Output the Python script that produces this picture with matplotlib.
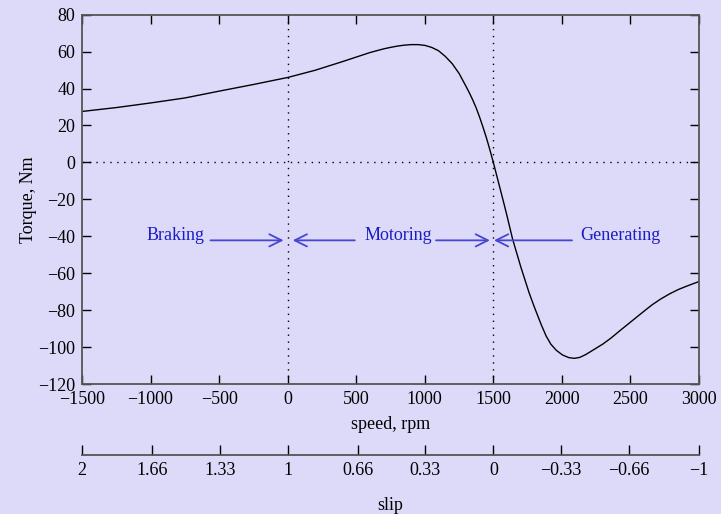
import numpy as np
import matplotlib
matplotlib.use("Agg")
import matplotlib.pyplot as plt

# torque-speed curve, values
speed = [-1500, -1250, -1000, -750, -500, -250, 0, 200, 400, 600, 700, 750,
         800, 850, 900, 950, 1000, 1050, 1100, 1150, 1200, 1250, 1300, 1325,
         1350, 1375, 1400, 1425, 1450, 1475, 1500, 1525, 1550, 1575, 1600,
         1640, 1700, 1760, 1800, 1850, 1885, 1920, 1960, 2005, 2050, 2090,
         2130, 2175, 2230, 2300, 2360, 2420, 2480, 2540, 2600, 2660, 2720,
         2785, 2850, 2910, 3000]
torque = [27.6, 29.7, 32.2, 34.9, 38.6, 42.2, 46.0, 49.9, 54.6, 59.5, 61.5, 62.3,
          63.0, 63.5, 63.8, 63.8, 63.4, 62.3, 60.5, 57.4, 53.5, 48.2, 41.3, 37.7,
          33.8, 29.5, 24.5, 19.0, 13.2, 6.8, 0.0, -7.2, -14.4, -21.6, -29.0,
          -41.4, -56.5, -70.4, -78.5, -88.0, -94.0, -98.5, -101.8, -104.3, -105.7, -106.1,
          -105.6, -104.0, -101.5, -98.3, -95.0, -91.3, -87.7, -84.1, -80.5, -77.0, -74.0,
          -71.2, -68.8, -67.0, -64.5]

speed_ticks = [-1500, -1000, -500, 0, 500, 1000, 1500, 2000, 2500, 3000]
torque_ticks = [-120, -100, -80, -60, -40, -20, 0, 20, 40, 60, 80]
slip_ticks = [2, 1.66, 1.33, 1, 0.66, 0.33, 0, -0.33, -0.66, -1]
slip_labels = ["2", "1.66", "1.33", "1", "0.66", "0.33", "0", "\u22120.33", "\u22120.66", "\u22121"]

# region labels: (text, x), arrows: (tail, head) at torque level arrow_y
region_text = [("Braking", -815), ("Motoring", 808), ("Generating", 2428)]
arrows = [(-563, -30), (490, 37), (1082, 1475), (2074, 1505)]
arrow_y = -42.2

bg = "#dddaf9"
blue_txt = "#1c1cc4"
blue_arrow = "#4646d2"

plt.rcParams["font.family"] = ["Liberation Serif", "DejaVu Serif"]
plt.rcParams["font.size"] = 13

fig = plt.figure(figsize=(7.21, 5.14), dpi=100, facecolor=bg)
ax = fig.add_axes([0.1137, 0.2529, 0.8558, 0.7185], facecolor=bg)

ax.plot(speed, torque, color="black", lw=1.0)

ax.axhline(0, color="black", lw=1.0, ls=(0, (1, 4)))
ax.axvline(0, color="black", lw=1.0, ls=(0, (1, 4)))
ax.axvline(1500, color="black", lw=1.0, ls=(0, (1, 4)))

for txt, x in region_text:
    ax.text(x, arrow_y, txt, color=blue_txt, ha="center", va="baseline", fontsize=13)
for tail, head in arrows:
    ax.annotate("", xy=(head, arrow_y), xytext=(tail, arrow_y),
                arrowprops=dict(arrowstyle="->", color=blue_arrow, lw=1.3,
                                mutation_scale=22, shrinkA=0, shrinkB=0))

ax.set_xlim(-1500, 3000)
ax.set_ylim(-120, 80)
ax.set_xticks(speed_ticks)
ax.set_yticks(torque_ticks)
ax.tick_params(direction="in", length=6.5, width=1.0, top=True, right=True,
               colors="black", labelcolor="black", pad=5)
for s in ax.spines.values():
    s.set_color("#555555")
    s.set_linewidth(1.3)
ax.set_xlabel("speed, rpm", labelpad=6)
ax.set_ylabel("Torque, Nm", labelpad=1)

# slip axis below
sax = fig.add_axes([0.1137, 0.1148, 0.8558, 0.001], facecolor="none")
sax.set_xlim(2, -1)
sax.set_ylim(0, 1)
for k in ["top", "left", "right"]:
    sax.spines[k].set_visible(False)
sax.spines["bottom"].set_color("#555555")
sax.spines["bottom"].set_linewidth(1.3)
sax.set_yticks([])
sax.set_xticks(slip_ticks)
sax.set_xticklabels(slip_labels)
sax.tick_params(axis="x", direction="in", length=7, width=1.0, pad=5)
sax.set_xlabel("slip", labelpad=13)

fig.savefig("out.png", dpi=100, facecolor=bg)
